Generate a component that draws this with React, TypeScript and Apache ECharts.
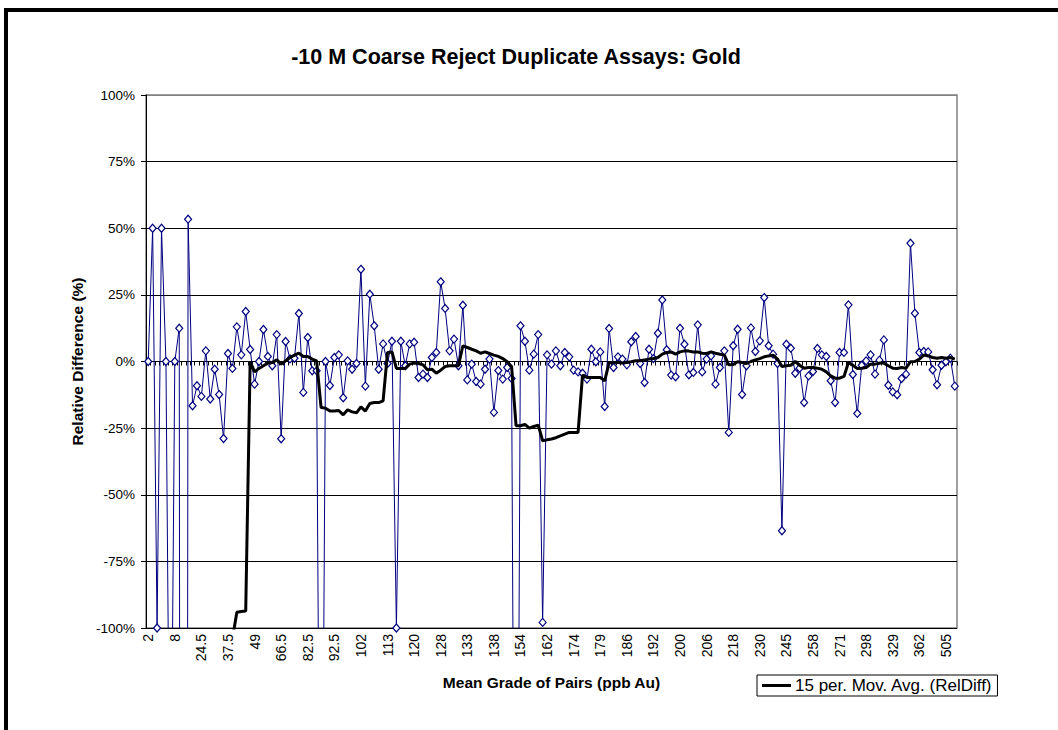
import React, { useEffect, useRef } from "react";
import * as echarts from "echarts";

const tickLabels = ["2","8","24.5","37.5","49","66.5","82.5","92.5","102","113","120","128","133","138","154","162","174","179","186","192","200","206","218","230","245","258","271","298","329","362","505"];

// Relative difference (%) per pair, in sorted mean-grade order (values below -100% are off-scale)
const relDiff = [
  0, 50, -100, 50, 0, -200, 0, 12.5, -1390, 53.4,
  -16.6, -9.1, -13.1, 4, -14.1, -2.9, -12.4, -28.9, 3, -2.6,
  13, 2.5, 18.75, 4.5, -8.5, 0, 12, 1.9, -1.6, 10.1,
  -29, 7.5, 1, 1.2, 18, -11.6, 9, -3.5, -3.5, -267,
  0, -9, 1.5, 2.5, -13.6, 0.25, -2.9, -0.75, 34.6, -9.25,
  25.25, 13.4, -2.9, 6.6, -0.75, 7.6, -100, 7.6, -1.6, 6.6,
  7.25, -6, -4.75, -6, 1.5, 3.4, 29.9, 19.9, 4, 8.4,
  -1.6, 21.1, -6.9, -1, -7.5, -8.5, -2.9, 0.9, -19.1, -3.4,
  -6.6, -2.25, -6.4, -329, 13.4, 7.6, -3.25, 2.75, 10.1, -97.9,
  2.5, -1, 4, -1.6, 3.4, 1.75, -3.25, -3.9, -4.4, -6.6,
  4.6, -0.1, 3.6, -16.9, 12.4, -2.25, 1.75, 0.9, -1.25, 7.4,
  9.4, -0.75, -7.9, 4.6, 1.1, 10.6, 23.1, 4.4, -5.1, -5.75,
  12.5, 6.5, -5, -4.1, 13.75, -3.9, 0.9, 2.1, -8.5, -2.25,
  4, -26.6, 5.9, 12.1, -12.4, -1.6, 12.6, 3.75, 7.75, 24,
  5.9, 2.75, -0.75, -63.5, 6.5, 5, -4.4, -2.5, -15.4, -5.4,
  -3.75, 4.9, 2.5, 1.9, -7.25, -15.4, 3.4, 3.4, 21.25, -4.9,
  -19.5, -1.4, 0.25, 2.5, -4.75, 0.5, 8.1, -8.9, -11.4, -12.5,
  -6.4, -4.75, 44.4, 18.1, 3.4, 3.75, 3.6, -3.1, -8.75, -1.4,
  -0.1, 1.25, -9.25
];

// 15-period moving average (%); "-" = no value yet
const movAvg = [
  "-", "-", "-", "-", "-", "-", "-", "-", "-", "-",
  "-", "-", "-", "-", -116, -116, -117, -118, -118, -104,
  -94.1, -93.8, -93.6, 0, -3.9, -2.6, -1.6, -0.6, -0.4, 0.6,
  -1, 0.25, 1.5, 2.4, 3.1, 1.9, 1.9, 0.9, 0.25, -17.25,
  -17.5, -18.6, -18.6, -18.4, -20, -18.1, -18.9, -19.25, -17, -18.6,
  -15.75, -15.4, -15.4, -14.75, 3.4, 3.6, -2.6, -2.6, -2.6, -1,
  -0.6, -0.75, -1.25, -3.1, -2.9, -4.4, -3.25, -1.9, -1.6, -1.6,
  -1.6, 5.9, 5.25, 4.6, 4, 3.1, 3.6, 3, 2.4, 1.9,
  1.1, -0.1, -1.9, -24.1, -24.1, -23.6, -25, -24.4, -23.9, -29.75,
  -29.4, -29.1, -28.6, -27.9, -27.25, -26.6, -26.6, -26.6, -5.1, -6,
  -6, -6, -6, -7.25, -0.4, -0.4, -0.4, -0.6, -0.4, -0.1,
  0.25, 0.25, 0.6, 0.9, 1.1, 1.5, 2.75, 3.4, 3.6, 2.75,
  3.6, 4, 3.9, 3.6, 3.6, 3.1, 3, 3.6, 3.1, 2.75,
  2.4, -1.25, -1.1, -0.1, -0.4, -0.75, 0, 0.6, 1.1, 1.75,
  2.1, 2.4, 0.9, -1.9, -1.6, -1.4, 0, -1.4, -2.5, -2.25,
  -2.25, -2.5, -2.9, -3.9, -5.4, -6.25, -6.25, -5.6, -0.4, -1.4,
  -2.6, -2.5, -2.25, -1, -1, -0.6, -0.6, -1.6, -2.5, -2.6,
  -2.25, -2.5, -0.1, 0, 0.9, 2.4, 2.1, 1.5, 1.25, 1.5,
  1.25, 1.5, 0.9
];

const LABEL_EVERY = 6;
const categories = relDiff.map((_, i) => (i % LABEL_EVERY === 0 ? tickLabels[i / LABEL_EVERY] : ""));

const FONT = '"Liberation Sans", Arial, sans-serif';

export default function App() {
  const ref = useRef<HTMLDivElement>(null);
  useEffect(() => {
    if (!ref.current) return;
    const chart = echarts.init(ref.current, null, { renderer: "svg" });
    chart.setOption({
      animation: false,
      backgroundColor: "#ffffff",
      textStyle: { fontFamily: FONT, color: "#000" },
      graphic: [
        {
          type: "rect",
          z: -10,
          shape: { x: 6, y: 10, width: 1200, height: 900 },
          style: { fill: "none", stroke: "#000", lineWidth: 4 },
        },
        {
          type: "text",
          x: 516,
          y: 57,
          style: {
            text: "-10 M Coarse Reject Duplicate Assays: Gold",
            fontFamily: FONT,
            fontSize: 21.5,
            fontWeight: "bold",
            fill: "#000",
            align: "center",
            verticalAlign: "middle",
          },
        },
      ],
      legend: {
        data: ["15 per. Mov. Avg. (RelDiff)"],
        left: 757,
        top: 675,
        orient: "horizontal",
        backgroundColor: "#fff",
        borderColor: "#000",
        borderWidth: 1,
        padding: [2, 5, 2, 5],
        itemWidth: 29,
        itemHeight: 3,
        itemGap: 4,
        icon: "rect",
        selectedMode: false,
        textStyle: { fontFamily: FONT, fontSize: 17, color: "#000", padding: [0, 0, 0, -1] },
      },
      grid: {
        left: 146,
        top: 95,
        width: 811,
        height: 533,
        show: true,
        borderColor: "#808080",
        borderWidth: 1.5,
        backgroundColor: "#fff",
      },
      xAxis: {
        type: "category",
        data: categories,
        boundaryGap: true,
        name: "Mean Grade of Pairs (ppb Au)",
        nameLocation: "middle",
        nameGap: 46,
        nameTextStyle: { fontFamily: FONT, fontSize: 15.5, fontWeight: "bold", color: "#000" },
        axisLine: { lineStyle: { color: "#000", width: 1 } },
        axisTick: { show: true, interval: 0, length: 4, lineStyle: { color: "#000" } },
        axisLabel: {
          interval: LABEL_EVERY - 1,
          rotate: 90,
          margin: 6,
          fontFamily: FONT,
          fontSize: 14,
          color: "#000",
        },
        splitLine: { show: false },
      },
      yAxis: {
        type: "value",
        min: -100,
        max: 100,
        interval: 25,
        name: "Relative Difference (%)",
        nameLocation: "middle",
        nameGap: 57,
        nameRotate: 90,
        nameTextStyle: { fontFamily: FONT, fontSize: 15.5, fontWeight: "bold", color: "#000" },
        axisLine: { show: true, lineStyle: { color: "#000", width: 1 } },
        axisTick: { show: true, length: 5, lineStyle: { color: "#000" } },
        axisLabel: {
          formatter: "{value}%",
          fontFamily: FONT,
          fontSize: 13.5,
          color: "#000",
          margin: 11,
        },
        splitLine: {
          show: true,
          lineStyle: {
            color: ["#000", "#000", "#000", "#000", "#000", "#000", "#000", "#000", "#808080"],
            width: 1,
          },
        },
      },
      series: [
        {
          name: "RelDiff",
          type: "line",
          data: relDiff,
          clip: true,
          symbol: "diamond",
          symbolSize: [7, 8],
          showAllSymbol: true,
          lineStyle: { color: "#000080", width: 1 },
          itemStyle: { color: "#fff", borderColor: "#000080", borderWidth: 1.2 },
          z: 3,
        },
        {
          name: "15 per. Mov. Avg. (RelDiff)",
          type: "line",
          data: movAvg,
          clip: true,
          symbol: "none",
          showSymbol: false,
          lineStyle: { color: "#000", width: 3 },
          itemStyle: { color: "#000" },
          z: 4,
        },
      ],
    });
    return () => chart.dispose();
  }, []);
  return (
    <div
      ref={ref}
      style={{ position: "absolute", left: 0, top: 0, width: 1058, height: 730 }}
    />
  );
}
